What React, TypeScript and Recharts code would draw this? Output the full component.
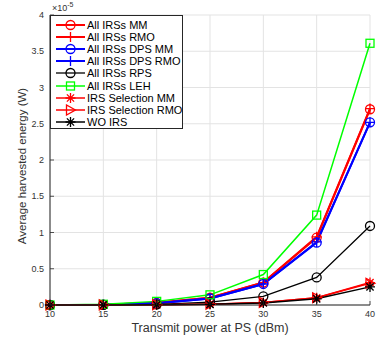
import { CartesianGrid, Legend, Line, LineChart, XAxis, YAxis } from "recharts";

// transmit power at PS (dBm)
const powers = [10, 15, 20, 25, 30, 35, 40];

// average harvested energy, in units of 1e-5 W
const allMM = [0, 0.005, 0.03, 0.1, 0.31, 0.93, 2.7];
const allRMO = [0, 0.005, 0.03, 0.1, 0.31, 0.94, 2.71];
const dpsMM = [0, 0.004, 0.025, 0.09, 0.29, 0.86, 2.52];
const dpsRMO = [0, 0.004, 0.025, 0.09, 0.29, 0.87, 2.52];
const allRPS = [0, 0.002, 0.01, 0.04, 0.12, 0.38, 1.09];
const allLEH = [0, 0.01, 0.05, 0.14, 0.42, 1.24, 3.61];
const selMM = [0, 0.001, 0.004, 0.012, 0.035, 0.1, 0.31];
const selRMO = [0, 0.001, 0.004, 0.012, 0.035, 0.1, 0.3];
const woIRS = [0, 0.001, 0.003, 0.009, 0.028, 0.085, 0.25];

const xTicks = [10, 15, 20, 25, 30, 35, 40];
const yTicks = [0, 0.5, 1, 1.5, 2, 2.5, 3, 3.5, 4];

type Shape = "circle" | "plus" | "square" | "star" | "triangle";

const series: { key: string; name: string; color: string; width: number; shape: Shape }[] = [
  { key: "allMM", name: "All IRSs MM", color: "#ff0000", width: 2, shape: "circle" },
  { key: "allRMO", name: "All IRSs RMO", color: "#ff0000", width: 2, shape: "plus" },
  { key: "dpsMM", name: "All IRSs DPS MM", color: "#0000ff", width: 2, shape: "circle" },
  { key: "dpsRMO", name: "All IRSs DPS RMO", color: "#0000ff", width: 2, shape: "plus" },
  { key: "allRPS", name: "All IRSs RPS", color: "#000000", width: 1.3, shape: "circle" },
  { key: "allLEH", name: "All IRSs LEH", color: "#00ff00", width: 1.5, shape: "square" },
  { key: "selMM", name: "IRS Selection MM", color: "#ff0000", width: 1.5, shape: "star" },
  { key: "selRMO", name: "IRS Selection RMO", color: "#ff0000", width: 1.5, shape: "triangle" },
  { key: "woIRS", name: "WO IRS", color: "#000000", width: 1.5, shape: "star" },
];

const data = powers.map((p, i) => ({
  power: p,
  allMM: allMM[i],
  allRMO: allRMO[i],
  dpsMM: dpsMM[i],
  dpsRMO: dpsRMO[i],
  allRPS: allRPS[i],
  allLEH: allLEH[i],
  selMM: selMM[i],
  selRMO: selRMO[i],
  woIRS: woIRS[i],
}));

const axisColor = "#262626";
const textColor = "#333";
const font = "'Liberation Sans', Arial, sans-serif";

function Marker({ cx, cy, shape, color }: { cx: number; cy: number; shape: Shape; color: string }) {
  const sw = 1.3;
  if (shape === "circle")
    return <circle cx={cx} cy={cy} r={4.5} fill="none" stroke={color} strokeWidth={sw} />;
  if (shape === "square")
    return <rect x={cx - 4} y={cy - 4} width={8} height={8} fill="none" stroke={color} strokeWidth={sw} />;
  if (shape === "plus")
    return (
      <path d={`M${cx - 5},${cy}H${cx + 5}M${cx},${cy - 5}V${cy + 5}`} stroke={color} strokeWidth={sw} fill="none" />
    );
  if (shape === "triangle")
    return (
      <polygon
        points={`${cx + 5},${cy} ${cx - 4},${cy - 5} ${cx - 4},${cy + 5}`}
        fill="none"
        stroke={color}
        strokeWidth={sw}
      />
    );
  const d = 3.6;
  return (
    <path
      d={`M${cx - 5},${cy}H${cx + 5}M${cx},${cy - 5}V${cy + 5}M${cx - d},${cy - d}L${cx + d},${cy + d}M${cx - d},${cy + d}L${cx + d},${cy - d}`}
      stroke={color}
      strokeWidth={sw}
      fill="none"
    />
  );
}

function BottomTick(props: any) {
  const { x, y, payload } = props;
  return (
    <g>
      <line x1={x} y1={y} x2={x} y2={y - 4} stroke={axisColor} strokeWidth={0.8} />
      <text x={x} y={y + 12} textAnchor="middle" fontSize={9} fill={textColor} fontFamily={font}>
        {payload.value}
      </text>
    </g>
  );
}

function TopTick(props: any) {
  const { x, y } = props;
  return <line x1={x} y1={y} x2={x} y2={y + 4} stroke={axisColor} strokeWidth={0.8} />;
}

function LeftTick(props: any) {
  const { x, y, payload } = props;
  return (
    <g>
      <line x1={x} y1={y} x2={x + 4} y2={y} stroke={axisColor} strokeWidth={0.8} />
      <text x={x - 6} y={y + 3} textAnchor="end" fontSize={9} fill={textColor} fontFamily={font}>
        {payload.value}
      </text>
    </g>
  );
}

function RightTick(props: any) {
  const { x, y } = props;
  return <line x1={x} y1={y} x2={x - 4} y2={y} stroke={axisColor} strokeWidth={0.8} />;
}

// y axis title plus the MATLAB-style exponent above the axis
function YLabel() {
  return (
    <g>
      <text
        transform="translate(26,166) rotate(-90)"
        textAnchor="middle"
        fontSize={11.5}
        fill={textColor}
        fontFamily={font}
      >
        Average harvested energy (W)
      </text>
      <text x={52} y={11} fontSize={9} fill={textColor} fontFamily={font}>
        ×10
        <tspan dy={-4} fontSize={7}>
          -5
        </tspan>
      </text>
    </g>
  );
}

function LegendBox() {
  return (
    <div
      style={{
        width: 133,
        height: 114,
        border: `1px solid ${axisColor}`,
        background: "#fff",
        paddingTop: 3,
        boxSizing: "border-box",
        fontFamily: font,
        fontSize: 11,
        color: "#000",
      }}
    >
      {series.map((s) => (
        <div key={s.key} style={{ display: "flex", alignItems: "center", height: 12.1 }}>
          <svg width={36} height={12} style={{ flex: "none" }}>
            <line x1={5} y1={6} x2={34} y2={6} stroke={s.color} strokeWidth={s.width} />
            <Marker cx={19.5} cy={6} shape={s.shape} color={s.color} />
          </svg>
          <span style={{ whiteSpace: "nowrap", lineHeight: "12px" }}>{s.name}</span>
        </div>
      ))}
    </div>
  );
}

export default function App() {
  return (
    <div style={{ position: "absolute", left: 0, top: 0, width: 386, height: 341, background: "#fff" }}>
      <LineChart width={386} height={341} data={data} margin={{ top: 15, right: 16, left: 0, bottom: 0 }}>
        <CartesianGrid stroke="#e3e3e3" strokeWidth={1} />
        <XAxis
          dataKey="power"
          type="number"
          domain={[10, 40]}
          ticks={xTicks}
          height={36}
          tickSize={0}
          tickMargin={0}
          tickLine={false}
          tick={<BottomTick />}
          axisLine={{ stroke: axisColor, strokeWidth: 1 }}
          interval={0}
          label={{
            value: "Transmit power at PS (dBm)",
            position: "insideBottom",
            offset: 9,
            fontSize: 12.5,
            fill: textColor,
            fontFamily: font,
          }}
        />
        <XAxis
          xAxisId="top"
          orientation="top"
          dataKey="power"
          type="number"
          domain={[10, 40]}
          ticks={xTicks}
          height={0}
          tickSize={0}
          tickMargin={0}
          tickLine={false}
          tick={<TopTick />}
          axisLine={{ stroke: axisColor, strokeWidth: 1 }}
          interval={0}
        />
        <YAxis
          type="number"
          domain={[0, 4]}
          ticks={yTicks}
          width={50}
          tickSize={0}
          tickMargin={0}
          tickLine={false}
          tick={<LeftTick />}
          axisLine={{ stroke: axisColor, strokeWidth: 1 }}
          interval={0}
          label={{ content: () => <YLabel /> }}
        />
        <YAxis
          yAxisId="right"
          orientation="right"
          type="number"
          domain={[0, 4]}
          ticks={yTicks}
          width={0}
          tickSize={0}
          tickMargin={0}
          tickLine={false}
          tick={<RightTick />}
          axisLine={{ stroke: axisColor, strokeWidth: 1 }}
          interval={0}
        />
        <Legend
          layout="vertical"
          align="center"
          verticalAlign="middle"
          wrapperStyle={{ left: 50, top: 15, width: 133, height: 114 }}
          content={() => <LegendBox />}
        />
        {series.map((s) => (
          <Line
            key={s.key}
            dataKey={s.key}
            name={s.name}
            stroke={s.color}
            strokeWidth={s.width}
            isAnimationActive={false}
            activeDot={false}
            dot={(p: any) => <Marker key={`${s.key}-${p.index}`} cx={p.cx} cy={p.cy} shape={s.shape} color={s.color} />}
          />
        ))}
      </LineChart>
    </div>
  );
}
